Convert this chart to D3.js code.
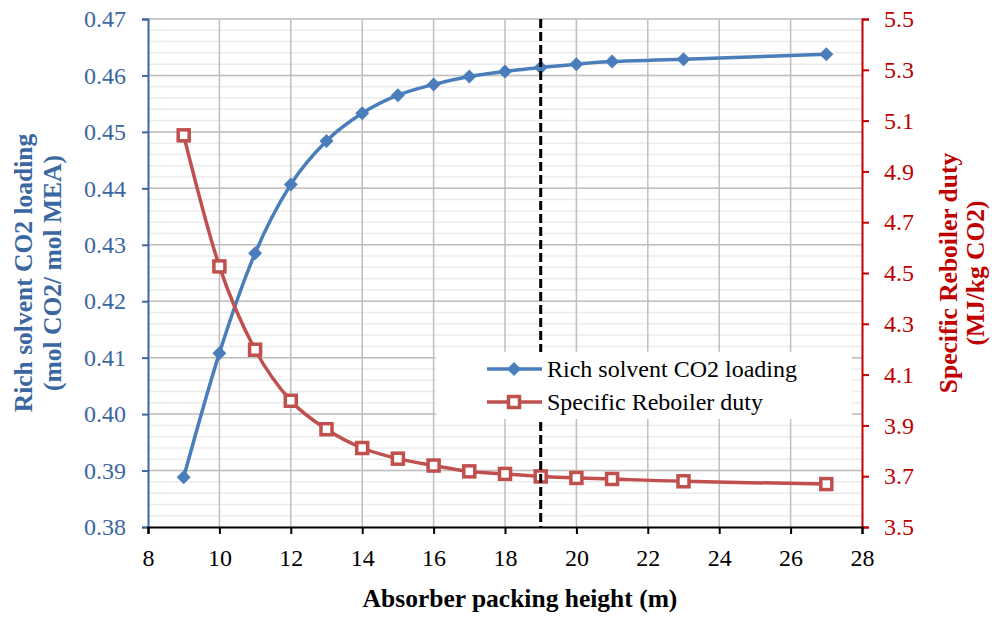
<!DOCTYPE html>
<html>
<head>
<meta charset="utf-8">
<script src="https://cdn.jsdelivr.net/npm/d3@7"></script>
<style>
  body { margin: 0; background: #fff; }
  text { font-family: "Liberation Serif", "Times New Roman", serif; }
</style>
</head>
<body>
<div id="chart"></div>
<script>
const svg_width = 992,
      svg_height = 617,
      plot_left = 148,
      plot_right = 862,
      plot_top = 19,
      plot_bottom = 527,
      blue = '#4a7ebb',
      red = '#c0504d',
      left_text_color = '#3a67a0',
      right_text_color = '#c00000',
      tick_font = '24px',
      title_font = '25.5px'

// data
const packing_height = [9, 10, 11, 12, 13, 14, 15, 16, 17, 18, 19, 20, 21, 23, 27]
const co2_loading = [0.3888, 0.4108, 0.4285, 0.4407, 0.4484, 0.4533, 0.4565, 0.4584, 0.4598, 0.4607, 0.4614, 0.4620, 0.46245, 0.46286, 0.46374]
const reboiler_duty = [5.042, 4.526, 4.198, 3.997, 3.885, 3.811, 3.769, 3.742, 3.719, 3.709, 3.699, 3.693, 3.689, 3.680, 3.669]
const x_ticks = [8, 10, 12, 14, 16, 18, 20, 22, 24, 26, 28]
const left_ticks = [0.38, 0.39, 0.40, 0.41, 0.42, 0.43, 0.44, 0.45, 0.46, 0.47]
const right_ticks = [3.5, 3.7, 3.9, 4.1, 4.3, 4.5, 4.7, 4.9, 5.1, 5.3, 5.5]
const marked_height = 19
const series_names = ['Rich solvent CO2 loading', 'Specific Reboiler duty']

const x = d3.scaleLinear().domain([8, 28]).range([plot_left, plot_right])
const y_left = d3.scaleLinear().domain([0.38, 0.47]).range([plot_bottom, plot_top])
const y_right = d3.scaleLinear().domain([3.5, 5.5]).range([plot_bottom, plot_top])

const svg = d3.select('#chart').append('svg')
  .attr('width', svg_width)
  .attr('height', svg_height)

// minor horizontal grid
const minor_ticks = d3.range(0, 46).map(i => 0.38 + i * 0.002)
svg.append('g').selectAll('line').data(minor_ticks).join('line')
  .attr('x1', plot_left).attr('x2', plot_right)
  .attr('y1', d => y_left(d)).attr('y2', d => y_left(d))
  .style('stroke', '#ebebeb').style('stroke-width', 1.5)

// major grid
svg.append('g').selectAll('line').data(left_ticks.slice(1)).join('line')
  .attr('x1', plot_left).attr('x2', plot_right)
  .attr('y1', d => y_left(d)).attr('y2', d => y_left(d))
  .style('stroke', '#bfbfbf').style('stroke-width', 1.5)

svg.append('g').selectAll('line').data(x_ticks.slice(1, -1)).join('line')
  .attr('x1', d => x(d)).attr('x2', d => x(d))
  .attr('y1', plot_top).attr('y2', plot_bottom)
  .style('stroke', '#bfbfbf').style('stroke-width', 1.5)

// axes
function style_axis(g, color) {
  g.select('.domain').style('stroke', color).style('stroke-width', 2)
  g.selectAll('.tick line').style('stroke', color).style('stroke-width', 2)
  g.selectAll('.tick text').style('fill', color).style('font-size', tick_font)
    .style('font-family', '"Liberation Serif", serif')
}

const left_axis = svg.append('g')
  .attr('transform', `translate(${plot_left},0)`)
  .call(d3.axisLeft(y_left).tickValues(left_ticks).tickFormat(d3.format('.2f')).tickSizeOuter(0).tickSize(6).tickPadding(16))
style_axis(left_axis, left_text_color)

const right_axis = svg.append('g')
  .attr('transform', `translate(${plot_right},0)`)
  .call(d3.axisRight(y_right).tickValues(right_ticks).tickFormat(d3.format('.1f')).tickSizeOuter(0).tickSize(7).tickPadding(15))
style_axis(right_axis, right_text_color)

const bottom_axis = svg.append('g')
  .attr('transform', `translate(0,${plot_bottom})`)
  .call(d3.axisBottom(x).tickValues(x_ticks).tickFormat(d3.format('d')).tickSizeOuter(0).tickSize(7).tickPadding(15))
style_axis(bottom_axis, '#000')

// series
const blue_pts = packing_height.map((h, i) => [x(h), y_left(co2_loading[i])])
const red_pts = packing_height.map((h, i) => [x(h), y_right(reboiler_duty[i])])
const smooth = d3.line().curve(d3.curveCardinal.tension(0))

svg.append('path').attr('d', smooth(blue_pts))
  .style('fill', 'none').style('stroke', blue).style('stroke-width', 3.5)
svg.append('path').attr('d', smooth(red_pts))
  .style('fill', 'none').style('stroke', red).style('stroke-width', 3.5)

function draw_diamond(g, cx, cy) {
  g.append('path')
    .attr('d', `M${cx},${cy - 7}L${cx + 7},${cy}L${cx},${cy + 7}L${cx - 7},${cy}Z`)
    .style('fill', blue)
}

function draw_square(g, cx, cy) {
  g.append('rect')
    .attr('x', cx - 5.5).attr('y', cy - 5.5).attr('width', 11).attr('height', 11)
    .style('fill', '#fff').style('stroke', red).style('stroke-width', 3.5)
}

const markers = svg.append('g')
blue_pts.forEach(p => draw_diamond(markers, p[0], p[1]))
red_pts.forEach(p => draw_square(markers, p[0], p[1]))

// vertical marker at 19 m
svg.append('line')
  .attr('x1', x(marked_height)).attr('x2', x(marked_height))
  .attr('y1', plot_top).attr('y2', plot_bottom)
  .style('stroke', '#000').style('stroke-width', 3).style('stroke-dasharray', '9,4')

// legend
const legend = svg.append('g')
legend.append('rect')
  .attr('x', 436).attr('y', 352).attr('width', 416).attr('height', 67)
  .style('fill', '#fff')

series_names.forEach((name, i) => {
  const ly = 369 + i * 33
  const color = i == 0 ? blue : red
  legend.append('line')
    .attr('x1', 487).attr('x2', 542).attr('y1', ly).attr('y2', ly)
    .style('stroke', color).style('stroke-width', 3.5)
  if (i == 0) draw_diamond(legend, 514, ly)
  else draw_square(legend, 514, ly)
  legend.append('text')
    .attr('x', 547).attr('y', ly)
    .attr('dy', '0.35em')
    .style('font-size', '24px')
    .text(name)
})

// axis titles
svg.append('text')
  .attr('x', 520).attr('y', 607)
  .attr('text-anchor', 'middle')
  .style('font-size', title_font).style('font-weight', 'bold')
  .text('Absorber packing height (m)')

const left_title = svg.append('text')
  .attr('transform', `translate(0,${(plot_top + plot_bottom) / 2}) rotate(-90)`)
  .attr('text-anchor', 'middle')
  .style('font-size', title_font).style('font-weight', 'bold')
  .style('fill', left_text_color)
left_title.append('tspan').attr('x', 0).attr('y', 32).text('Rich solvent CO2 loading')
left_title.append('tspan').attr('x', 0).attr('y', 61).text('(mol CO2/ mol MEA)')

const right_title = svg.append('text')
  .attr('transform', `translate(0,${(plot_top + plot_bottom) / 2}) rotate(-90)`)
  .attr('text-anchor', 'middle')
  .style('font-size', title_font).style('font-weight', 'bold')
  .style('fill', right_text_color)
right_title.append('tspan').attr('x', 0).attr('y', 957).text('Specific Reboiler duty')
right_title.append('tspan').attr('x', 0).attr('y', 984).text('(MJ/kg CO2)')
</script>
</body>
</html>
